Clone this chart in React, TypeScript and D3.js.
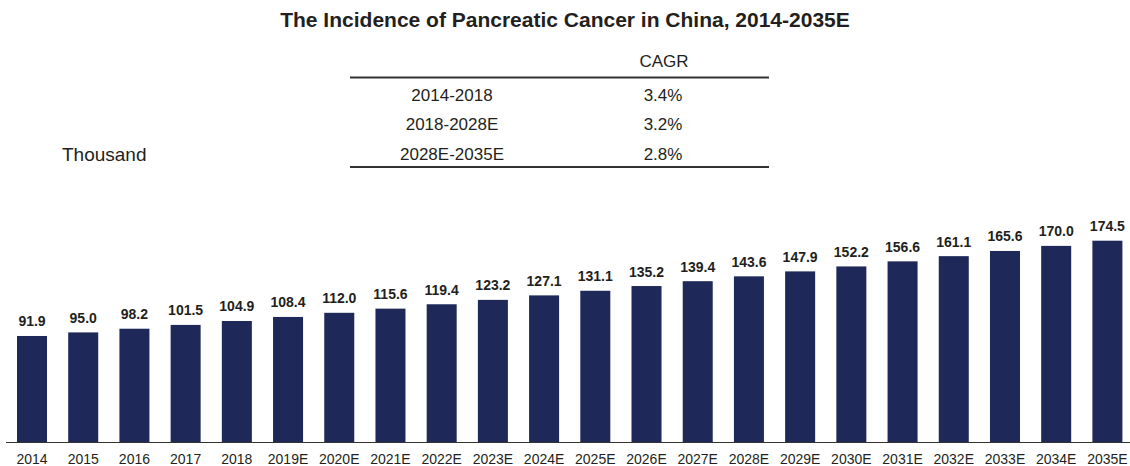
import React, { useRef, useEffect } from 'react';
import * as d3 from 'd3';

const years = ['2014', '2015', '2016', '2017', '2018', '2019E', '2020E', '2021E', '2022E', '2023E', '2024E',
  '2025E', '2026E', '2027E', '2028E', '2029E', '2030E', '2031E', '2032E', '2033E', '2034E', '2035E'];
const incidence = [91.9, 95.0, 98.2, 101.5, 104.9, 108.4, 112.0, 115.6, 119.4, 123.2, 127.1,
  131.1, 135.2, 139.4, 143.6, 147.9, 152.2, 156.6, 161.1, 165.6, 170.0, 174.5];
const cagrPeriods = ['2014-2018', '2018-2028E', '2028E-2035E'];
const cagrValues = ['3.4%', '3.2%', '2.8%'];

const W = 1130;
const H = 466;
const BAR_COLOR = '#1e2859';
const TEXT = '#231f20';

function App() {
  const ref = useRef<SVGSVGElement | null>(null);

  useEffect(() => {
    const svg = d3.select(ref.current);
    svg.selectAll('*').remove();
    const font = 'Liberation Sans, Arial, sans-serif';

    const baseY = 442;
    const x = d3.scaleBand().domain(years).range([6.4, 1133]).paddingInner(0.414).paddingOuter(0.207);
    const y = d3.scaleLinear().domain([0, 174.5]).range([baseY, 240.7]);

    // title
    svg.append('text')
      .attr('x', 565).attr('y', 27)
      .attr('text-anchor', 'middle')
      .attr('font-family', font).attr('font-weight', 'bold').attr('font-size', 21)
      .attr('fill', TEXT)
      .text('The Incidence of Pancreatic Cancer in China, 2014-2035E');

    // CAGR table
    const tbl = svg.append('g').attr('font-family', font).attr('font-size', 17).attr('fill', TEXT);
    tbl.append('text').attr('x', 664).attr('y', 66.7).attr('text-anchor', 'middle').text('CAGR');
    tbl.append('line').attr('x1', 350).attr('x2', 769).attr('y1', 77.5).attr('y2', 77.5)
      .attr('stroke', '#333').attr('stroke-width', 2);
    tbl.append('line').attr('x1', 350).attr('x2', 769).attr('y1', 167).attr('y2', 167)
      .attr('stroke', '#333').attr('stroke-width', 2);
    cagrPeriods.forEach((p, i) => {
      tbl.append('text').attr('x', 452).attr('y', 100.5 + i * 29.5).attr('text-anchor', 'middle').text(p);
      tbl.append('text').attr('x', 663).attr('y', 100.5 + i * 29.5).attr('text-anchor', 'middle').text(cagrValues[i]);
    });
    tbl.append('text').attr('x', 62).attr('y', 161).attr('font-size', 19).text('Thousand');

    // bars
    svg.selectAll('rect.bar')
      .data(incidence)
      .enter()
      .append('rect')
      .attr('class', 'bar')
      .attr('x', (d, i) => x(years[i])!)
      .attr('y', d => y(d))
      .attr('width', x.bandwidth())
      .attr('height', d => baseY - y(d))
      .attr('fill', BAR_COLOR);

    // value labels
    svg.selectAll('text.val')
      .data(incidence)
      .enter()
      .append('text')
      .attr('class', 'val')
      .attr('x', (d, i) => x(years[i])! + x.bandwidth() / 2)
      .attr('y', d => y(d) - 9.5)
      .attr('text-anchor', 'middle')
      .attr('font-family', font).attr('font-weight', 'bold').attr('font-size', 14)
      .attr('fill', TEXT)
      .text(d => d.toFixed(1));

    // x axis
    svg.append('line').attr('x1', 6).attr('x2', 1130).attr('y1', baseY + 0.5).attr('y2', baseY + 0.5)
      .attr('stroke', '#333').attr('stroke-width', 1.2);
    svg.selectAll('text.tick')
      .data(years)
      .enter()
      .append('text')
      .attr('class', 'tick')
      .attr('x', d => x(d)! + x.bandwidth() / 2)
      .attr('y', 464)
      .attr('text-anchor', 'middle')
      .attr('font-family', font).attr('font-size', 14)
      .attr('fill', TEXT)
      .text(d => d);
  }, []);

  return (
    <svg ref={ref} width={W} height={H} style={{ position: 'absolute', left: 0, top: 0, background: '#fff' }} />
  );
}

export default App;
